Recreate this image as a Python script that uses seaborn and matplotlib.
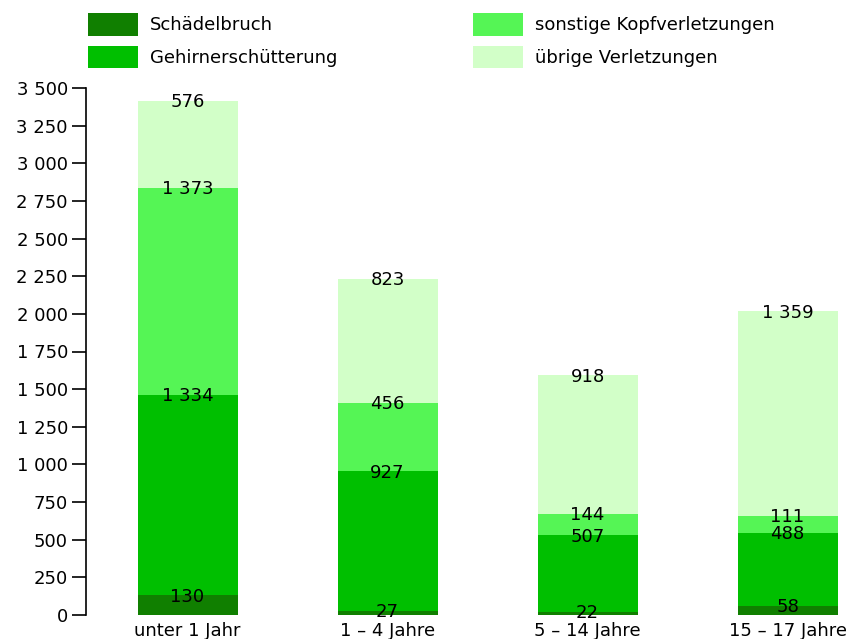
import numpy as np
import pandas as pd
import matplotlib
matplotlib.use("Agg")
import matplotlib.pyplot as plt
from matplotlib.patches import Patch
import seaborn as sns

# Daten aus der Grafik
altersgruppen = ["unter 1 Jahr", "1 – 4 Jahre", "5 – 14 Jahre", "15 – 17 Jahre"]
schaedelbruch = [130, 27, 22, 58]
gehirnerschuetterung = [1334, 927, 507, 488]
sonstige_kopf = [1373, 456, 144, 111]
uebrige = [576, 823, 918, 1359]

kategorien = ["Schädelbruch", "Gehirnerschütterung",
              "sonstige Kopfverletzungen", "übrige Verletzungen"]
farben = ["#107f00", "#00bf00", "#55f555", "#d2ffc8"]
y_ticks = [0, 250, 500, 750, 1000, 1250, 1500, 1750, 2000, 2250, 2500, 2750, 3000, 3250, 3500]


def fmt(v):
    return f"{v:,}".replace(",", " ")


sns.set_style("white")
plt.rcParams["font.family"] = ["DejaVu Sans"]
plt.rcParams["text.color"] = "black"

df = pd.DataFrame({"gruppe": altersgruppen,
                   kategorien[0]: schaedelbruch,
                   kategorien[1]: gehirnerschuetterung,
                   kategorien[2]: sonstige_kopf,
                   kategorien[3]: uebrige})
cum = df[kategorien].cumsum(axis=1)

fig = plt.figure(figsize=(8.46, 6.39), dpi=100)
ax = fig.add_axes([86 / 846, 24 / 639, 760 / 846, 527 / 639])

# gestapelte Balken: von oben (Gesamtsumme) nach unten zeichnen
for kat, farbe in zip(kategorien[::-1], farben[::-1]):
    sns.barplot(x=df["gruppe"], y=cum[kat], color=farbe, saturation=1,
                width=0.5, linewidth=0, ax=ax)

# Werte an der Oberkante jedes Segments
for i in range(len(altersgruppen)):
    for kat in kategorien:
        ax.text(i, cum.loc[i, kat] - 8, fmt(df.loc[i, kat]), ha="center",
                va="center", fontsize=13, color="black")

ax.set_xlim(-0.5075, 3.2925)
ax.set_ylim(0, 3500)
ax.set_yticks(y_ticks)
ax.set_yticklabels([fmt(t) for t in y_ticks])
ax.set_xlabel("")
ax.set_ylabel("")
ax.tick_params(axis="y", direction="out", length=10, width=1.2, labelsize=13,
               left=True, pad=3, colors="black")
ax.tick_params(axis="x", length=0, labelsize=13, pad=5, colors="black")
for s in ["top", "right", "bottom"]:
    ax.spines[s].set_visible(False)
ax.spines["left"].set_linewidth(1.2)
ax.spines["left"].set_color("black")

# Legende in zwei Spalten
handles = [Patch(facecolor=f, edgecolor="none", label=k) for k, f in zip(kategorien, farben)]
opts = dict(loc="upper left", frameon=False, fontsize=13, handlelength=2.75,
            handleheight=1.55, handletextpad=0.67, labelspacing=0.55,
            borderaxespad=0, borderpad=0, labelcolor="black")
for grp, x0 in [(handles[:2], 88 / 846), (handles[2:], 473 / 846)]:
    fig.legend(handles=grp, bbox_to_anchor=(x0, 1 - 13 / 639), **opts)

fig.savefig("out.png", dpi=100)
